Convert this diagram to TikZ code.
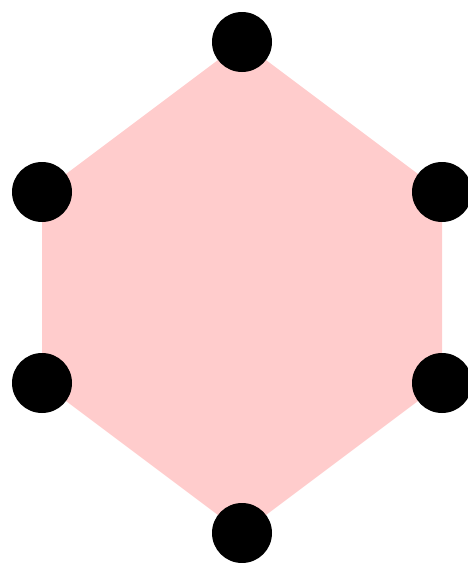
\documentclass[tikz,border=0pt]{standalone}
\definecolor{hexpink}{HTML}{FFCCCC}
\tikzset{dot/.style={circle,fill=black,inner sep=0pt,minimum size=60pt}}
\begin{document}
\begin{tikzpicture}[x=1pt,y=-1pt]
\useasboundingbox (0,0) rectangle (468,563);
\coordinate (t) at (242,42);
\coordinate (ur) at (442,192);
\coordinate (lr) at (442,383);
\coordinate (b) at (242,533);
\coordinate (ll) at (42,383);
\coordinate (ul) at (42,192);
\fill[hexpink] (t) -- (ur) -- (lr) -- (b) -- (ll) -- (ul) -- cycle;
\begin{scope}
\clip (0,0) rectangle (468,563);
\foreach \p in {t,ur,lr,b,ll,ul}
  \node[dot] (n\p) at (\p) {};
\end{scope}
\end{tikzpicture}
\end{document}
